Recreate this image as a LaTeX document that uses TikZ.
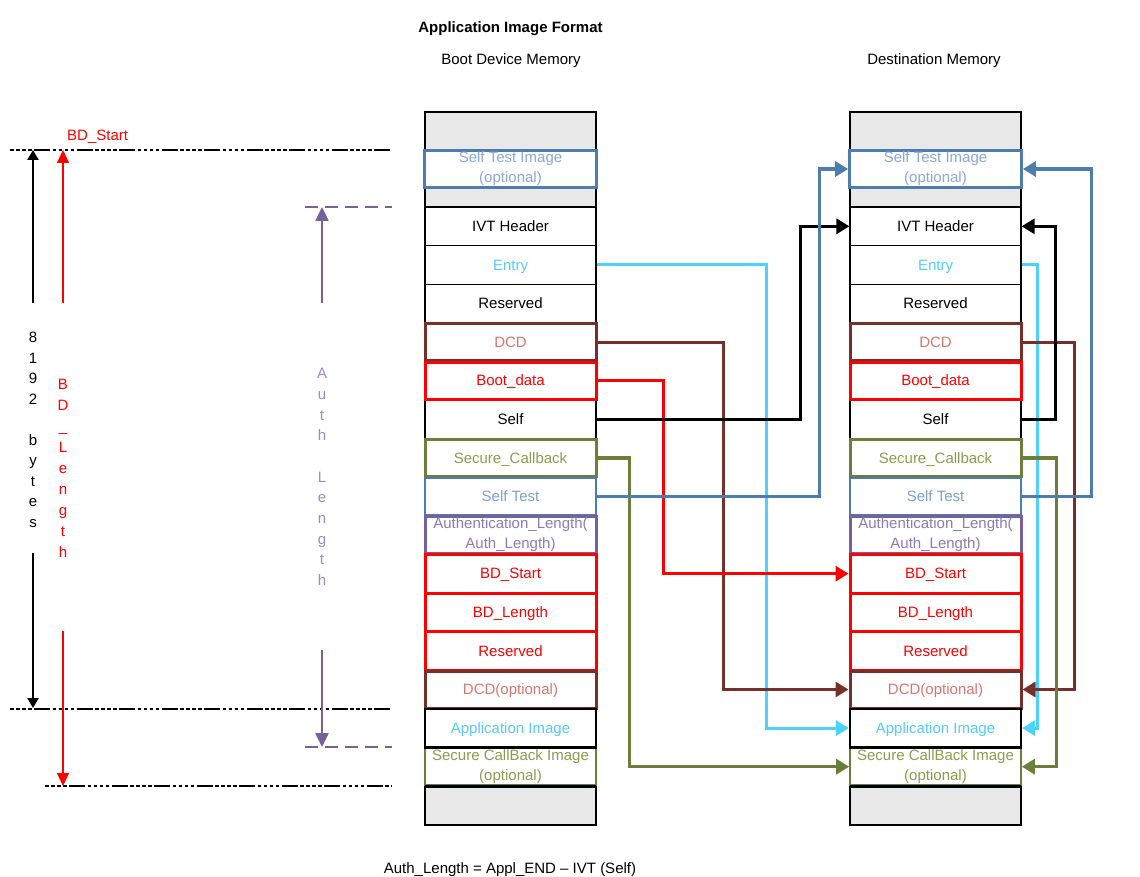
\documentclass[tikz,border=0pt]{standalone}
\usepackage{fontspec}
\setmainfont{Liberation Sans}
\usetikzlibrary{arrows.meta}
\definecolor{cyanL}{HTML}{4DD2FF}
\definecolor{cyanT}{HTML}{55CCFF}
\definecolor{brownL}{HTML}{772F2A}
\definecolor{brownT}{HTML}{D4786F}
\definecolor{oliveL}{HTML}{6B7F3A}
\definecolor{oliveT}{HTML}{8E9B4E}
\definecolor{steelL}{HTML}{4F7CAF}
\definecolor{steelT}{HTML}{7E9FD0}
\definecolor{steelTT}{HTML}{8AA8D8}
\definecolor{purpL}{HTML}{76619B}
\definecolor{purpT}{HTML}{8A7BB8}
\definecolor{purpA}{HTML}{9B8BBE}
\definecolor{grayBG}{HTML}{E8E8E8}
\newcommand\mydfont{\fontsize{15}{20}\selectfont}
\tikzset{
  rowbox/.style={minimum width=171pt, minimum height=38.6pt, inner sep=0pt, align=center, font=\mydfont, fill=white},
  oneline/.style={text height=10.5pt, text depth=0pt},
  plainrow/.style={rowbox, oneline, draw=black, line width=1.2pt},
  colrow/.style={rowbox, minimum height=37pt, line width=3pt},
  conn/.style={line width=3.2pt, -{Triangle[length=13pt,width=15pt]}},
  blkdash/.style={black, line width=2pt, dash pattern=on 3.5pt off 2.5pt on 3.5pt off 2.5pt on 3.5pt off 2.5pt on 3.5pt off 2.5pt on 16pt off 2.5pt},
  purpdash/.style={purpL, line width=2.2pt, dash pattern=on 13pt off 7pt},
  lbl/.style={font=\mydfont, inner sep=0pt}
}
\newcommand\memcol[2]{%
  \fill[grayBG] (#2-85.5,112) rectangle (#2+85.5,825);
  \draw[black, line width=2.2pt] (#2-85.5,112) rectangle (#2+85.5,825);
  \node[plainrow] (#1r0) at (#2,226.3) {IVT Header};
  \node[plainrow, text=cyanT] (#1r1) at (#2,264.9) {Entry};
  \node[plainrow] (#1r2) at (#2,303.5) {Reserved};
  \node[plainrow] (#1r5) at (#2,419.3) {Self};
  \node[colrow, oneline, draw=brownL, text=brownT] (#1r3) at (#2,342.1) {DCD};
  \node[colrow, oneline, draw=red, text=red] (#1r4) at (#2,380.7) {Boot\_data};
  \node[colrow, oneline, draw=oliveL, text=oliveT] (#1r6) at (#2,457.9) {Secure\_Callback};
  \node[colrow, oneline, draw=steelL, line width=2.2pt, text=steelT] (#1r7) at (#2,496.5) {Self Test};
  \node[colrow, draw=purpL, text=purpT] (#1r8) at (#2,535.1) {Authentication\_Length(\\Auth\_Length)};
  \node[rowbox, oneline, draw=red, line width=3pt, text=red] (#1r9) at (#2,573.7) {BD\_Start};
  \node[rowbox, oneline, draw=red, line width=3pt, text=red] (#1r10) at (#2,612.3) {BD\_Length};
  \node[rowbox, oneline, draw=red, line width=3pt, text=red] (#1r11) at (#2,650.9) {Reserved};
  \node[colrow, oneline, draw=brownL, text=brownT] (#1r12) at (#2,689.5) {DCD(optional)};
  \node[colrow, draw=oliveL, line width=1.6pt, text=oliveT] (#1r14) at (#2,766.7) {Secure CallBack Image\\(optional)};
  \node[rowbox, oneline, draw=black, line width=2.2pt, text=cyanT] (#1r13) at (#2,728.1) {Application Image};
  \draw[black, line width=2.2pt] (#2-85.5,786.4) -- (#2+85.5,786.4);
  \node[rowbox, minimum height=37pt, minimum width=172pt, draw=steelL, line width=2.7pt, text=steelTT] (#1st) at (#2,169) {Self Test Image\\(optional)};
}
\begin{document}
\begin{tikzpicture}[x=1pt,y=-1pt]
\useasboundingbox (0,0) rectangle (1140,877);
% titles
\node[font=\fontsize{15}{18}\selectfont\bfseries, inner sep=0pt] (title) at (510.5,29) {Application Image Format};
\node[lbl] (bdm) at (511,61) {Boot Device Memory};
\node[lbl] (dsm) at (934,61) {Destination Memory};
% columns
\memcol{L}{510.5}
\memcol{R}{935.5}
% connectors left column -> destination
\draw[conn, cyanL] (Lr1.east) -- ++(170,0) |- (Rr13.west);
\draw[conn, brownL] (Lr3.east) -- ++(126,0) |- (Rr12.west);
\draw[conn, red] (Lr4.east) -- ++(66,0) |- (Rr9.west);
\draw[conn, black] (Lr5.east) -- ++(204,0) |- (Rr0.west);
\draw[conn, oliveL] (Lr6.east) -- ++(32,0) |- (Rr14.west);
\draw[conn, steelL] (Lr7.east) -- ++(222,0) |- (Rst.west);
% connectors right column
\draw[conn, cyanL] (Rr1.east) -- ++(16,0) |- (Rr13.east);
\draw[conn, brownL] (Rr3.east) -- ++(52,0) |- (Rr12.east);
\draw[conn, black] (Rr5.east) -- ++(34,0) |- (Rr0.east);
\draw[conn, oliveL] (Rr6.east) -- ++(34,0) |- (Rr14.east);
\draw[conn, steelL] (Rr7.east) -- ++(69,0) |- (Rst.east);
% left annotations
\coordinate (d1a) at (10,150); \coordinate (d1b) at (392,150);
\coordinate (d2a) at (10,709); \coordinate (d2b) at (392,709);
\coordinate (d3a) at (45,786); \coordinate (d3b) at (392,786);
\draw[blkdash] (d1a) -- (d1b);
\draw[blkdash] (d2a) -- (d2b);
\draw[blkdash] (d3a) -- (d3b);
\coordinate (p1a) at (305,207); \coordinate (p1b) at (392,207);
\coordinate (p2a) at (305,747); \coordinate (p2b) at (392,747);
\draw[purpdash] (p1a) -- (p1b);
\draw[purpdash] (p2a) -- (p2b);
\coordinate (k1) at (33,303); \coordinate (k1t) at (33,150);
\coordinate (k2) at (33,553); \coordinate (k2t) at (33,708);
\draw[black, line width=2.5pt, -{Triangle[length=10pt,width=11pt]}] (k1) -- (k1t);
\draw[black, line width=2.5pt, -{Triangle[length=10pt,width=11pt]}] (k2) -- (k2t);
\coordinate (q1) at (63,303); \coordinate (q1t) at (63,150);
\coordinate (q2) at (63,631); \coordinate (q2t) at (63,786);
\draw[red, line width=1.1pt, -{Triangle[length=13pt,width=12pt]}] (q1) -- (q1t);
\draw[red, line width=1.1pt, -{Triangle[length=13pt,width=12pt]}] (q2) -- (q2t);
\coordinate (u1) at (322,303); \coordinate (u1t) at (322,207);
\coordinate (u2) at (322,650); \coordinate (u2t) at (322,747);
\draw[purpL, line width=2.5pt, -{Triangle[length=14pt,width=13pt]}] (u1) -- (u1t);
\draw[purpL, line width=2.5pt, -{Triangle[length=14pt,width=13pt]}] (u2) -- (u2t);
\node[lbl, text=red, anchor=base west] (bds) at (67,141) {BD\_Start};
\node[lbl, align=center, font=\fontsize{15}{20.5}\selectfont] (bytes) at (33,430) {8\\1\\9\\2\\\mbox{}\\b\\y\\t\\e\\s};
\node[lbl, align=center, text=red, font=\fontsize{15}{21}\selectfont] (bdl) at (63,468) {B\\D\\\_\\L\\e\\n\\g\\t\\h};
\node[lbl, align=center, text=purpA, font=\fontsize{15}{20.7}\selectfont] (authl) at (322,477) {A\\u\\t\\h\\\mbox{}\\L\\e\\n\\g\\t\\h};
% formula
\node[lbl, anchor=base] (formula) at (510,873) {Auth\_Length = Appl\_END – IVT (Self)};
\end{tikzpicture}
\end{document}
